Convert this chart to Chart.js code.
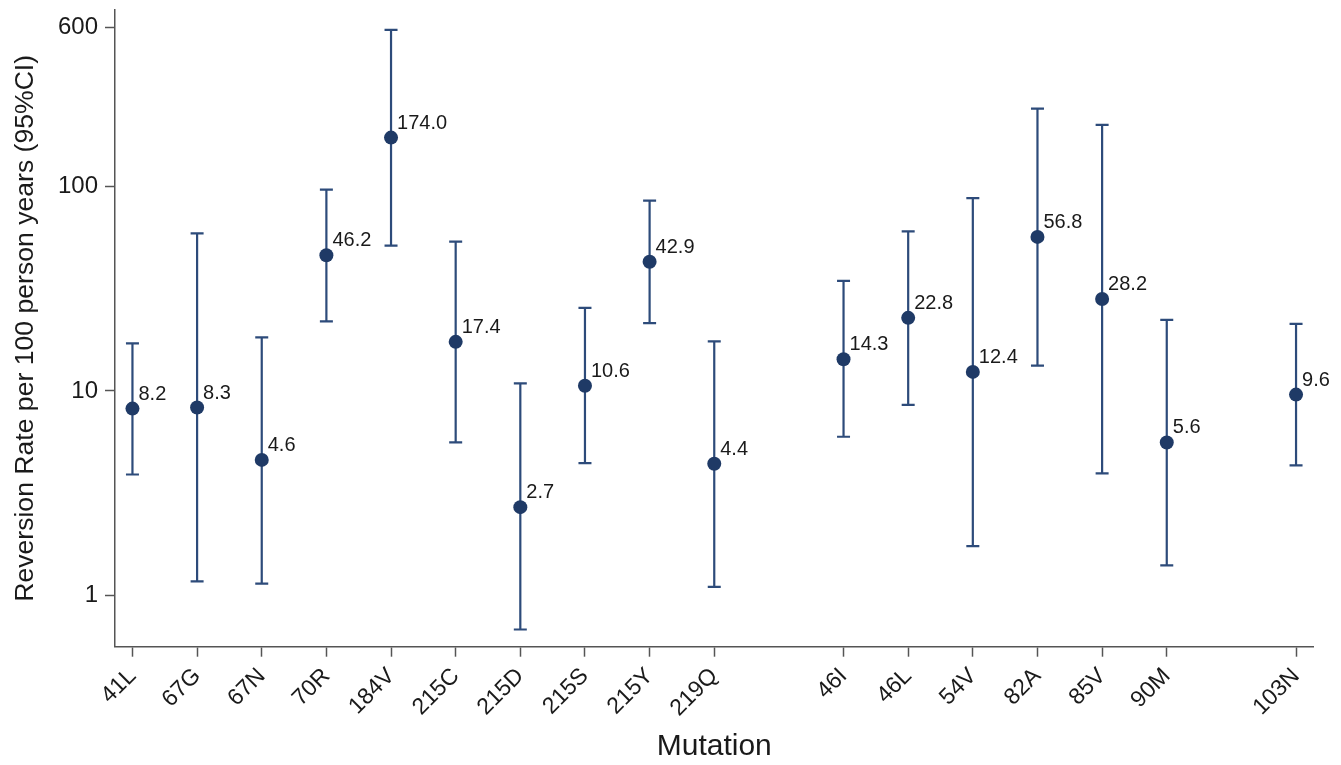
<!DOCTYPE html>
<html>
<head>
<meta charset="utf-8">
<script src="https://cdn.jsdelivr.net/npm/chart.js@4/dist/chart.umd.min.js"></script>
<style>
  html, body { margin: 0; padding: 0; background: #ffffff; }
  #wrap { width: 1341px; height: 765px; position: relative; }
</style>
</head>
<body>
<div id="wrap"><canvas id="c"></canvas></div>
<script>
// ---- data ----
const categories = ['41L','67G','67N','70R','184V','215C','215D','215S','215Y','219Q','46I','46L','54V','82A','85V','90M','103N'];
const groups     = ['NRTI','NRTI','NRTI','NRTI','NRTI','NRTI','NRTI','NRTI','NRTI','NRTI','PI','PI','PI','PI','PI','PI','NNRTI'];
const rates      = [8.2, 8.3, 4.6, 46.2, 174.0, 17.4, 2.7, 10.6, 42.9, 4.4, 14.3, 22.8, 12.4, 56.8, 28.2, 5.6, 9.6];
const lowerCI    = [3.9, 1.17, 1.14, 21.9, 51.5, 5.6, 0.68, 4.43, 21.5, 1.10, 5.97, 8.55, 1.74, 13.3, 3.95, 1.40, 4.32];
const upperCI    = [17.1, 59.1, 18.3, 96.7, 586, 53.8, 10.9, 25.5, 85.5, 17.5, 34.6, 60.5, 88.0, 241, 201, 22.3, 21.3];
const yTickValues = [1, 10, 100, 600];

// x slot for each category: one empty slot between groups
const groupOrder = ['NRTI','PI','NNRTI'];
const xSlots = categories.map((c, i) => i + 1 + groupOrder.indexOf(groups[i]));

const FONT = "'Liberation Sans', Arial, Helvetica, sans-serif";
const LINE_COLOR = '#2d4b7a';
const DOT_COLOR = '#1f3a66';
const AXIS_COLOR = '#555555';

const errorBars = {
  id: 'errorBars',
  beforeDatasetsDraw(chart) {
    const xs = chart.scales.x, ys = chart.scales.y, ctx = chart.ctx;
    ctx.save();
    ctx.strokeStyle = LINE_COLOR;
    ctx.lineWidth = 2.2;
    const cap = 6.5;
    xSlots.forEach((s, i) => {
      const x = xs.getPixelForValue(s);
      const yl = ys.getPixelForValue(lowerCI[i]);
      const yu = ys.getPixelForValue(upperCI[i]);
      ctx.beginPath();
      ctx.moveTo(x, yl); ctx.lineTo(x, yu);
      ctx.moveTo(x - cap, yl); ctx.lineTo(x + cap, yl);
      ctx.moveTo(x - cap, yu); ctx.lineTo(x + cap, yu);
      ctx.stroke();
    });
    ctx.restore();
  }
};

const valueLabels = {
  id: 'valueLabels',
  afterDatasetsDraw(chart) {
    const xs = chart.scales.x, ys = chart.scales.y, ctx = chart.ctx;
    ctx.save();
    ctx.fillStyle = '#1a1a1a';
    ctx.font = '20px ' + FONT;
    ctx.textAlign = 'left';
    ctx.textBaseline = 'alphabetic';
    xSlots.forEach((s, i) => {
      const x = xs.getPixelForValue(s);
      const y = ys.getPixelForValue(rates[i]);
      ctx.fillText(rates[i].toFixed(1), x + 6, y - 9);
    });
    ctx.restore();
  }
};

new Chart(document.getElementById('c'), {
  type: 'scatter',
  data: {
    datasets: [{
      data: xSlots.map((s, i) => ({ x: s, y: rates[i] })),
      backgroundColor: DOT_COLOR,
      borderColor: DOT_COLOR,
      pointRadius: 7,
      pointHoverRadius: 7,
      borderWidth: 0
    }]
  },
  options: {
    responsive: true,
    maintainAspectRatio: false,
    animation: false,
    layout: { padding: { left: 0, right: 27.5, top: 10, bottom: 0 } },
    plugins: { legend: { display: false }, tooltip: { enabled: false } },
    scales: {
      x: {
        type: 'linear',
        min: 0.73,
        max: 19.27,
        afterBuildTicks(axis) { axis.ticks = xSlots.map(v => ({ value: v })); },
        afterFit(axis) { axis.height = 118.3; },
        grid: { drawOnChartArea: false, drawTicks: true, tickLength: 10, tickColor: AXIS_COLOR, tickWidth: 1.5 },
        border: { display: true, color: AXIS_COLOR, width: 1.5 },
        ticks: {
          autoSkip: false,
          minRotation: 45,
          maxRotation: 45,
          padding: 6,
          color: '#1a1a1a',
          font: { family: FONT, size: 23 },
          callback(value) {
            const i = xSlots.indexOf(value);
            return i >= 0 ? categories[i] : '';
          }
        },
        title: {
          display: true,
          text: 'Mutation',
          color: '#1a1a1a',
          font: { family: FONT, size: 30, lineHeight: 1.2 },
          padding: { top: 0, bottom: 0 }
        }
      },
      y: {
        type: 'logarithmic',
        min: 0.56,
        max: 733,
        afterBuildTicks(axis) { axis.ticks = yTickValues.map(v => ({ value: v })); },
        afterFit(axis) { axis.width = 115; axis.paddingTop = 0; axis.paddingBottom = 0; },
        grid: { drawOnChartArea: false, drawTicks: true, tickLength: 10, tickColor: AXIS_COLOR, tickWidth: 1.5 },
        border: { display: true, color: AXIS_COLOR, width: 1.5 },
        ticks: {
          padding: 7,
          color: '#1a1a1a',
          font: { family: FONT, size: 24 },
          callback(value) { return String(value); }
        },
        title: {
          display: true,
          text: 'Reversion Rate per 100 person years (95%CI)',
          color: '#1a1a1a',
          font: { family: FONT, size: 26.6, lineHeight: 1.2 },
          padding: { top: 10, bottom: 0 }
        }
      }
    }
  },
  plugins: [errorBars, valueLabels]
});
</script>
</body>
</html>
